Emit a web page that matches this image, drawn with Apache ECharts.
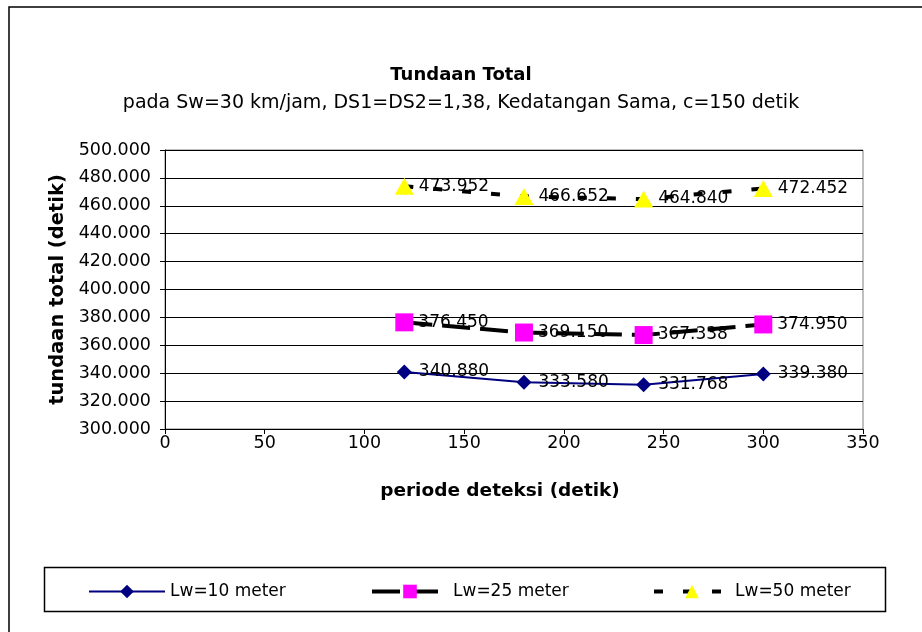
<!DOCTYPE html>
<html>
<head>
<meta charset="utf-8">
<script src="https://cdn.jsdelivr.net/npm/echarts@6/dist/echarts.min.js"></script>
<style>
html,body{margin:0;padding:0;background:#fff;}
#c{width:922px;height:632px;}
</style>
</head>
<body>
<div id="c"></div>
<script>
const periods = [120, 180, 240, 300];
const lw10 = [340.880, 333.580, 331.768, 339.380];
const lw25 = [376.450, 369.150, 367.338, 374.950];
const lw50 = [473.952, 466.652, 464.840, 472.452];
const seriesNames = ['Lw=10 meter', 'Lw=25 meter', 'Lw=50 meter'];
const titleText = 'Tundaan Total';
const subtitleText = 'pada Sw=30 km/jam, DS1=DS2=1,38, Kedatangan Sama, c=150 detik';
const xName = 'periode deteksi (detik)';
const yName = 'tundaan total (detik)';

const FONT = 'DejaVu Sans';
const FS = 17;

function pairs(vals){ return periods.map((p,i)=>[p, vals[i]]); }
const lbl = (dist) => ({
  show: true, position: 'right', distance: dist,
  color: '#000', fontFamily: FONT, fontSize: FS,
  formatter: p => p.value[1].toFixed(3)
});
const legendText = {fontFamily: FONT, fontSize: FS, color: '#000'};

const chart = echarts.init(document.getElementById('c'), null, {renderer: 'canvas'});
chart.setOption({
  backgroundColor: '#fff',
  animation: false,
  title: [
    {text: titleText, left: 'center', top: 61,
     textStyle: {fontFamily: FONT, fontSize: 18, fontWeight: 'bold', color: '#000'}},
    {text: subtitleText, left: 'center', top: 89,
     textStyle: {fontFamily: FONT, fontSize: 19, fontWeight: 'normal', color: '#000'}}
  ],
  graphic: [
    {type: 'rect', shape: {x: 9, y: 7, width: 1000, height: 1000}, silent: true,
     style: {fill: 'none', stroke: '#000', lineWidth: 1.5}},
    {type: 'rect', shape: {x: 44.5, y: 567.5, width: 841, height: 44}, silent: true,
     style: {fill: 'none', stroke: '#000', lineWidth: 1.5}}
  ],
  legend: [
    {data: [seriesNames[0]], left: 83, top: 578, itemWidth: 76, itemHeight: 17, itemGap: 0,
     lineStyle: {width: 2, type: 'solid'},
     textStyle: legendText},
    {data: [seriesNames[1]], left: 365, top: 578, itemWidth: 76, itemHeight: 17, itemGap: 0,
     lineStyle: {width: 4, type: [28, 10], color: '#000'},
     textStyle: legendText},
    {data: [seriesNames[2]], left: 647, top: 578, itemWidth: 76, itemHeight: 17, itemGap: 0,
     lineStyle: {width: 4, type: [9, 20], color: '#000'},
     textStyle: legendText}
  ],
  grid: {left: 165, right: 59, top: 150, bottom: 203, show: true,
         borderColor: '#808080', borderWidth: 1, backgroundColor: '#fff'},
  xAxis: {
    type: 'value', min: 0, max: 350, interval: 50,
    name: xName, nameLocation: 'middle', nameGap: 53,
    nameTextStyle: {fontFamily: FONT, fontSize: 18.5, fontWeight: 'bold', color: '#000',
                    padding: [0, 28, 0, 0]},
    axisLine: {show: true, onZero: false, lineStyle: {color: '#000', width: 1}},
    axisTick: {show: true, inside: false, length: 5, lineStyle: {color: '#000'}},
    axisLabel: {color: '#000', fontFamily: FONT, fontSize: 17.5, margin: 5},
    splitLine: {show: false}
  },
  yAxis: {
    type: 'value', min: 300, max: 500, interval: 20,
    name: yName, nameLocation: 'middle', nameGap: 95, nameRotate: 90,
    nameTextStyle: {fontFamily: FONT, fontSize: 19.5, fontWeight: 'bold', color: '#000'},
    axisLine: {show: true, lineStyle: {color: '#000', width: 1}},
    axisTick: {show: true, inside: false, length: 5, lineStyle: {color: '#000'}},
    axisLabel: {color: '#000', fontFamily: FONT, fontSize: 17.5, margin: 14,
                formatter: v => v.toFixed(3)},
    splitLine: {show: true, lineStyle: {color: '#000', width: 1}}
  },
  series: [
    {name: seriesNames[0], type: 'line', data: pairs(lw10),
     symbol: 'diamond', symbolSize: 15,
     itemStyle: {color: '#000080', borderWidth: 0},
     lineStyle: {color: '#000080', width: 2, type: 'solid'},
     label: lbl(7), z: 3},
    {name: seriesNames[1], type: 'line', data: pairs(lw25),
     symbol: 'rect', symbolSize: 18,
     itemStyle: {color: '#FF00FF', borderWidth: 0},
     lineStyle: {color: '#000', width: 4, type: [28, 10]},
     label: lbl(5), z: 3},
    {name: seriesNames[2], type: 'line', data: pairs(lw50),
     symbol: 'triangle', symbolSize: [19, 17],
     itemStyle: {color: '#FFFF00', borderWidth: 0},
     lineStyle: {color: '#000', width: 4, type: [9, 20]},
     label: lbl(5), z: 3}
  ]
});
</script>
</body>
</html>
